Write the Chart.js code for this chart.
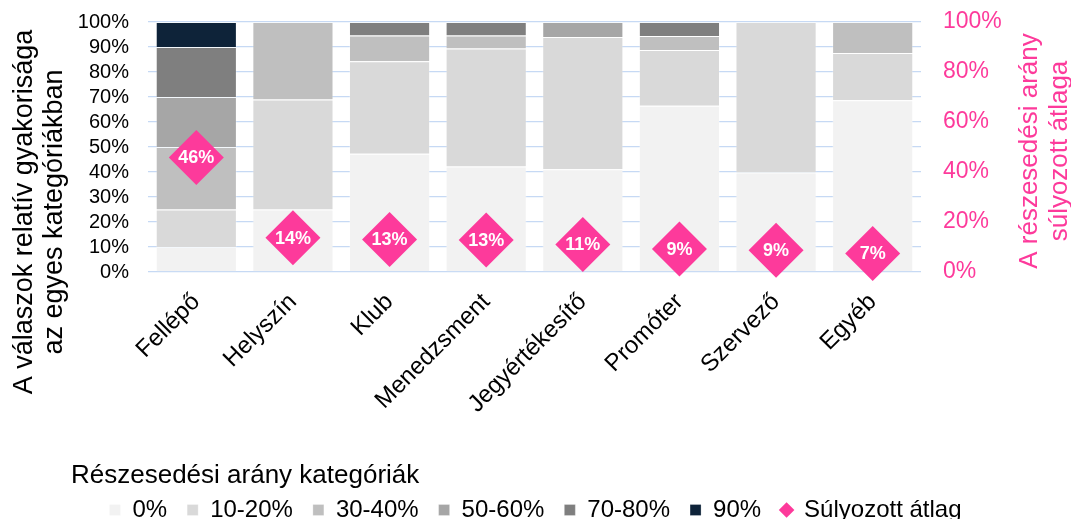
<!DOCTYPE html>
<html><head><meta charset="utf-8">
<script src="https://cdn.jsdelivr.net/npm/chart.js@4/dist/chart.umd.min.js"></script>
<style>html,body{margin:0;padding:0;background:#fff;overflow:hidden}#wrap{width:1071px;height:519px;position:relative}</style>
</head><body><div id="wrap"><canvas id="c"></canvas></div>
<script>
const categories = ['Fellépő','Helyszín','Klub','Menedzsment','Jegyértékesítő','Promóter','Szervező','Egyéb'];
const share0     = [10, 25, 47.3, 42.2, 41.1, 66.5, 39.8, 68.7];
const share10_20 = [15, 44, 37.0, 47.2, 52.9, 22.3, 60.2, 18.9];
const share30_40 = [25, 31, 10.3, 5.2, 0, 5.6, 0, 12.4];
const share50_60 = [20, 0, 0, 0, 6.0, 0, 0, 0];
const share70_80 = [20, 0, 5.4, 5.4, 0, 5.6, 0, 0];
const share90    = [10, 0, 0, 0, 0, 0, 0, 0];
const weightedAvg = [45.8, 13.7, 13.0, 12.8, 11.0, 9.2, 8.7, 7.4];
const seriesNames = ['0%','10-20%','30-40%','50-60%','70-80%','90%','Súlyozott átlag'];
const leftAxisTitle = ['A válaszok relatív gyakorisága','az egyes kategóriákban'];
const rightAxisTitle = ['A részesedési arány','súlyozott átlaga'];
const legendTitle = 'Részesedési arány kategóriák';

const FONT = '"Liberation Sans", Arial, Helvetica, sans-serif';
const PINK = '#fd3a9b';
const barColors = ['#f2f2f2','#d9d9d9','#bfbfbf','#a6a6a6','#7f7f7f','#0e2339'];
Chart.defaults.font.family = FONT;
Chart.defaults.color = '#000';

const barSeries = [share0, share10_20, share30_40, share50_60, share70_80, share90];
const datasets = barSeries.map((d, i) => ({
  type: 'bar',
  label: seriesNames[i],
  data: d,
  backgroundColor: barColors[i],
  borderColor: 'rgba(255,255,255,0.25)',
  borderWidth: 1,
  pointStyle: 'rect',
  yAxisID: 'y',
  order: 1,
  barPercentage: 1,
  categoryPercentage: 0.84
}));
datasets.push({
  type: 'line',
  label: seriesNames[6],
  data: weightedAvg,
  yAxisID: 'y2',
  showLine: false,
  pointStyle: 'rectRot',
  pointRadius: 27.5,
  pointHoverRadius: 27.5,
  pointBackgroundColor: PINK,
  pointBorderWidth: 0,
  backgroundColor: PINK,
  borderColor: PINK,
  borderWidth: 0,
  clip: false,
  order: 0
});

const annot = {
  id: 'annot',
  afterDatasetsDraw(chart) {
    const ctx = chart.ctx;
    const meta = chart.getDatasetMeta(6);
    ctx.save();
    ctx.font = 'bold 18px ' + FONT;
    ctx.fillStyle = '#ffffff';
    ctx.textAlign = 'center';
    ctx.textBaseline = 'middle';
    meta.data.forEach((pt, i) => {
      ctx.fillText(Math.round(weightedAvg[i]) + '%', pt.x, pt.y + 1);
    });
    ctx.restore();
  },
  afterDraw(chart) {
    const ctx = chart.ctx;
    ctx.save();
    ctx.textAlign = 'center';
    ctx.textBaseline = 'middle';
    // left axis title
    ctx.font = '27px ' + FONT;
    ctx.fillStyle = '#000';
    ctx.save();
    ctx.translate(25, 212);
    ctx.rotate(-Math.PI / 2);
    leftAxisTitle.forEach((t, i) => ctx.fillText(t, 0, i * 30));
    ctx.restore();
    // right axis title
    ctx.font = '26px ' + FONT;
    ctx.fillStyle = PINK;
    ctx.save();
    ctx.translate(1030, 151);
    ctx.rotate(-Math.PI / 2);
    rightAxisTitle.forEach((t, i) => ctx.fillText(t, 0, i * 30));
    ctx.restore();
    // legend title
    const lg = chart.legend;
    ctx.font = '26px ' + FONT;
    ctx.fillStyle = '#000';
    ctx.textAlign = 'left';
    ctx.textBaseline = 'alphabetic';
    ctx.fillText(legendTitle, 71, lg.top + 5);
    ctx.restore();
  }
};

function fixVertical(width) {
  return function (scale) {
    scale.width = width;
    scale.paddingTop = 0;
    scale.paddingBottom = 0;
  };
}

new Chart(document.getElementById('c'), {
  data: { labels: categories, datasets },
  plugins: [annot],
  options: {
    responsive: true,
    maintainAspectRatio: false,
    animation: false,
    events: [],
    layout: { autoPadding: false, padding: { top: 22, left: 0, right: 0, bottom: 0 } },
    plugins: {
      tooltip: { enabled: false },
      legend: {
        position: 'bottom',
        maxHeight: 41,
        labels: {
          usePointStyle: true,
          boxWidth: 11,
          boxHeight: 11,
          padding: 20,
          color: '#000',
          font: { size: 24, family: FONT },
          sort: (a, b) => a.datasetIndex - b.datasetIndex
        }
      }
    },
    scales: {
      x: {
        stacked: true,
        grid: { display: false },
        border: { display: false },
        ticks: {
          autoSkip: false,
          maxRotation: 45,
          minRotation: 45,
          padding: 8,
          color: '#000',
          font: { size: 24, family: FONT }
        },
        afterFit(scale) { scale.height = 206; scale.paddingLeft = 0; scale.paddingRight = 0; }
      },
      y: {
        stacked: true,
        position: 'left',
        min: 0, max: 100,
        grid: { color: '#c6d9f4', lineWidth: 1.3, drawTicks: true, tickLength: 19, tickColor: 'rgba(0,0,0,0)' },
        border: { display: false },
        ticks: {
          stepSize: 10,
          autoSkip: false,
          padding: 0,
          color: '#000',
          font: { size: 20, family: FONT },
          callback: v => v + '%'
        },
        afterFit: fixVertical(148)
      },
      y2: {
        position: 'right',
        min: 0, max: 100,
        grid: { display: true, drawOnChartArea: false, drawTicks: true, tickLength: 22, tickColor: 'rgba(0,0,0,0)' },
        border: { display: false },
        ticks: {
          stepSize: 20,
          autoSkip: false,
          padding: 0,
          color: PINK,
          font: { size: 23, family: FONT },
          callback: v => v + '%'
        },
        afterFit: fixVertical(150)
      }
    }
  }
});
</script>
</body></html>
